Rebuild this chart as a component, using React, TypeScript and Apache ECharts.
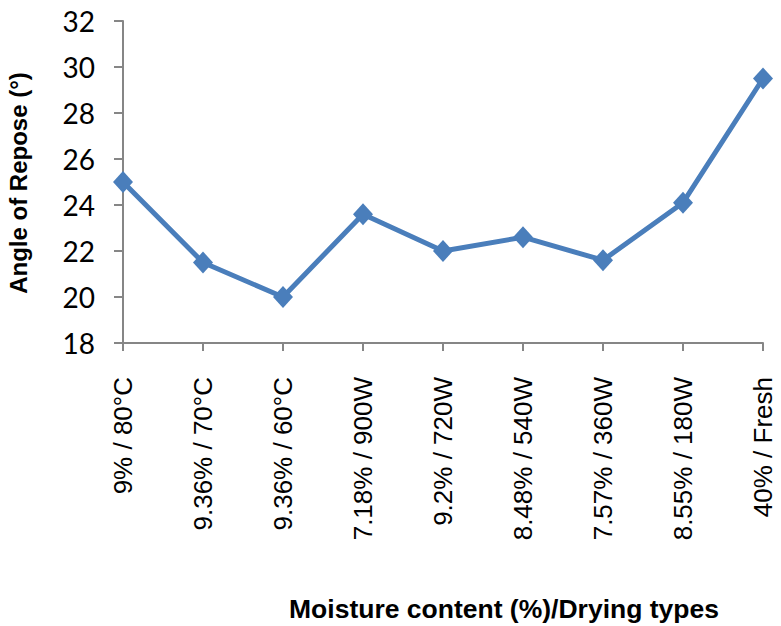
import { useEffect, useRef } from 'react'
import * as echarts from 'echarts'

const categories = [
  '9% / 80°C',
  '9.36% / 70°C',
  '9.36% / 60°C',
  '7.18% / 900W',
  '9.2% / 720W',
  '8.48% / 540W',
  '7.57% / 360W',
  '8.55% / 180W',
  '40% / Fresh',
]
const reposeAngles = [25.0, 21.5, 20.0, 23.6, 22.0, 22.6, 21.6, 24.1, 29.5]
const yMin = 18
const yMax = 32
const yStep = 2

const xTitle = 'Moisture content (%)/Drying types'
const yTitle = 'Angle of Repose (°)'

const lineBlue = '#4A7EBB'
const axisGray = '#868686'

function App() {
  const chartRef = useRef<HTMLDivElement>(null)

  useEffect(() => {
    if (!chartRef.current) return
    const chart = echarts.init(chartRef.current, undefined, { renderer: 'svg' })

    const option: echarts.EChartsOption = {
      animation: false,
      backgroundColor: '#ffffff',
      grid: { left: 123, right: 18, top: 21, bottom: 283 },
      xAxis: {
        type: 'category',
        data: categories,
        boundaryGap: false,
        axisLine: { show: true, lineStyle: { color: axisGray, width: 2 } },
        axisTick: { show: true, length: 8, interval: 0, lineStyle: { color: axisGray, width: 2 } },
        axisLabel: {
          interval: 0,
          rotate: 90,
          margin: 34,
          color: '#000',
          fontFamily: 'Liberation Sans',
          fontSize: 26,
        },
      },
      yAxis: {
        type: 'value',
        min: yMin,
        max: yMax,
        interval: yStep,
        splitLine: { show: false },
        axisLine: { show: true, lineStyle: { color: axisGray, width: 2 } },
        axisTick: { show: true, length: 9, lineStyle: { color: axisGray, width: 2 } },
        axisLabel: {
          margin: 28,
          color: '#000',
          fontFamily: 'Lato',
          fontSize: 28,
        },
      },
      series: [
        {
          type: 'line',
          data: reposeAngles,
          symbol: 'diamond',
          symbolSize: [20, 22],
          lineStyle: { color: lineBlue, width: 5 },
          itemStyle: { color: lineBlue },
        },
      ],
      graphic: [
        {
          type: 'text',
          x: 18,
          y: 183,
          rotation: Math.PI / 2,
          style: {
            text: yTitle,
            align: 'center',
            verticalAlign: 'middle',
            fill: '#000',
            font: 'bold 24px "Liberation Sans"',
          },
        },
        {
          type: 'text',
          x: 504,
          y: 609,
          style: {
            text: xTitle,
            align: 'center',
            verticalAlign: 'middle',
            fill: '#000',
            font: 'bold 26.5px "Liberation Sans"',
          },
        },
      ],
    }

    chart.setOption(option)

    return () => {
      chart.dispose()
    }
  }, [])

  return (
    <div
      ref={chartRef}
      style={{ position: 'fixed', left: 0, top: 0, width: '781px', height: '626px' }}
    />
  )
}

export default App
